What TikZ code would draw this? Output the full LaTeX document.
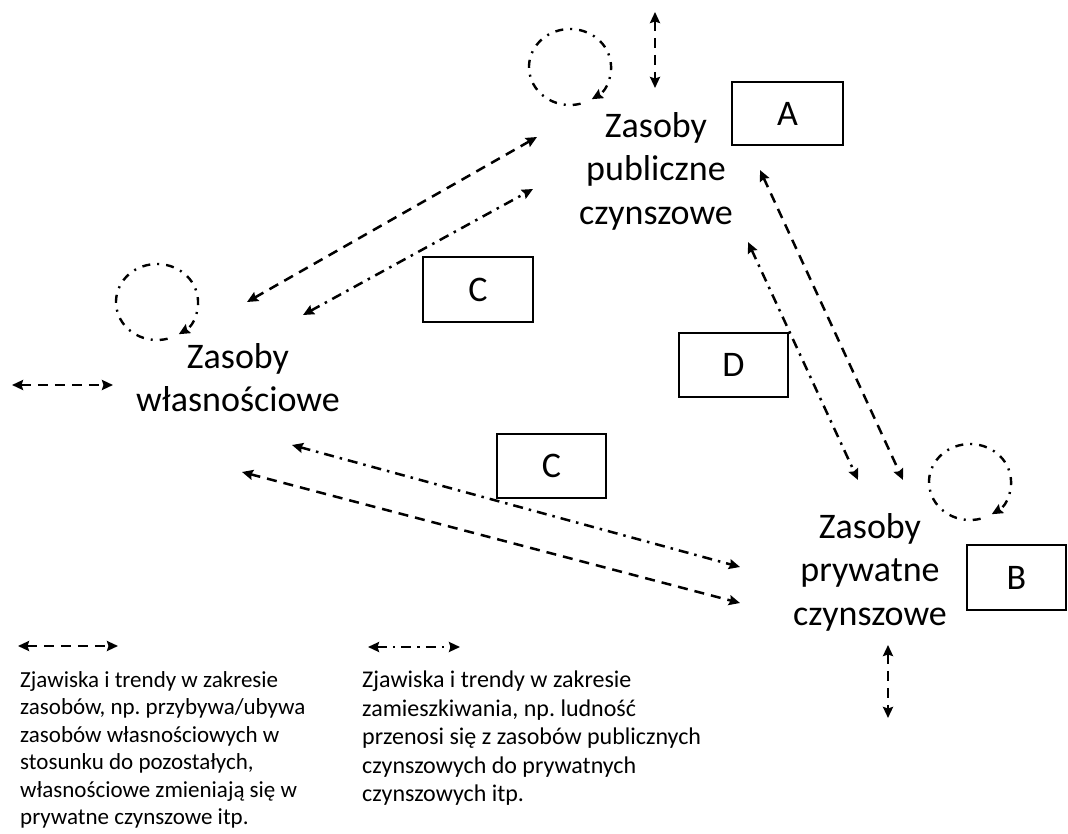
\documentclass[tikz,border=0pt]{standalone}
\usepackage{fontspec}
\setmainfont{Carlito}
\usetikzlibrary{arrows.meta}
\frenchspacing

\tikzset{
  lbl/.style={inner sep=0pt, align=center, anchor=north,
    font=\fontsize{36}{43.5}\selectfont},
  tagbox/.style={draw, line width=2.5pt, inner sep=0pt,
    minimum width=#1, font=\fontsize{36}{43.5}\selectfont},
  note/.style={inner sep=0pt, align=left, anchor=north west},
  tip/.style={{Stealth[length=11pt,width=10pt,inset=1.5pt]}-{Stealth[length=11pt,width=10pt,inset=1.5pt]}},
  stockflow/.style={tip, line width=2.5pt, dash pattern=on 10pt off 7pt},
  peopleflow/.style={tip, line width=2.5pt, dash pattern=on 10pt off 6pt on 2.5pt off 6pt},
  selfloop/.style={-{Stealth[length=11pt,width=10pt,inset=1.5pt]}, line width=2.4pt,
    dash pattern=on 8pt off 7pt on 2pt off 7pt},
}

\begin{document}
\begin{tikzpicture}[x=1pt, y=-1pt]
  % canvas
  \fill[white] (0,0) rectangle (1068,834);
  \useasboundingbox (0,0) rectangle (1068,834);

  % housing stock labels
  \node[lbl] (pub) at (656,112) {Zasoby\\publiczne\\czynszowe};
  \node[lbl] (own) at (238,343) {Zasoby\\własnościowe};
  \node[lbl] (prv) at (870,513) {Zasoby\\prywatne\\czynszowe};

  % letter boxes
  \node[tagbox=111pt, minimum height=63pt] (bA) at (787.5,113.5) {A};
  \node[tagbox=110pt, minimum height=65pt] (bC1) at (478,289.5) {C};
  \node[tagbox=109pt, minimum height=64pt] (bD) at (733.5,365) {D};
  \node[tagbox=109pt, minimum height=64pt] (bC2) at (551.5,466) {C};
  \node[tagbox=99pt, minimum height=65pt] (bB) at (1016.5,577.5) {B};

  % connector end points
  \coordinate (po1) at (537,137);  \coordinate (op1) at (247,302);
  \coordinate (po2) at (533,189);  \coordinate (op2) at (303,315);
  \coordinate (pp1) at (760,170);  \coordinate (rp1) at (903,480);
  \coordinate (pp2) at (748,242);  \coordinate (rp2) at (858,480);
  \coordinate (or1) at (292,445);  \coordinate (ro1) at (740,567);
  \coordinate (or2) at (242,472);  \coordinate (ro2) at (740,603);
  \coordinate (pubT) at (655,12);  \coordinate (pubB) at (655,88);
  \coordinate (ownL) at (12,385);  \coordinate (ownR) at (113,385);
  \coordinate (prvT) at (888,645); \coordinate (prvB) at (888,718);

  % flows between stocks
  \draw[stockflow] (op1) -- (po1);
  \draw[peopleflow] (op2) -- (po2);
  \draw[stockflow] (pp1) -- (rp1);
  \draw[peopleflow] (pp2) -- (rp2);
  \draw[peopleflow] (or1) -- (ro1);
  \draw[stockflow] (or2) -- (ro2);

  % external change of each stock
  \draw[stockflow] (pubT) -- (pubB);
  \draw[stockflow] (ownL) -- (ownR);
  \draw[stockflow] (prvT) -- (prvB);

  % moves within a stock: clockwise loops ending lower right
  \coordinate (lpub) at (570,67);
  \coordinate (lown) at (157,302);
  \coordinate (lprv) at (970,482);
  \foreach \c in {lpub,lown,lprv}
    \draw[selfloop] ([shift={(-75:41pt and 38pt)}]\c)
      arc[start angle=285, end angle=-58, x radius=41pt, y radius=38pt];

  % legend
  \coordinate (k1a) at (18,646);  \coordinate (k1b) at (118,646);
  \coordinate (k2a) at (368,647); \coordinate (k2b) at (460,647);
  \draw[stockflow] (k1a) -- (k1b);
  \draw[peopleflow] (k2a) -- (k2b);
  \node[note, font=\fontsize{23}{27.5}\selectfont] (n1) at (20,671)
    {Zjawiska i trendy w zakresie\\zasobów, np. przybywa/ubywa\\zasobów własnościowych w\\stosunku do pozostałych,\\własnościowe zmieniają się w\\prywatne czynszowe itp.};
  \node[note, font=\fontsize{24}{28.5}\selectfont] (n2) at (362,671)
    {Zjawiska i trendy w zakresie\\zamieszkiwania, np. ludność\\przenosi się z zasobów publicznych\\czynszowych do prywatnych\\czynszowych itp.};
\end{tikzpicture}
\end{document}
